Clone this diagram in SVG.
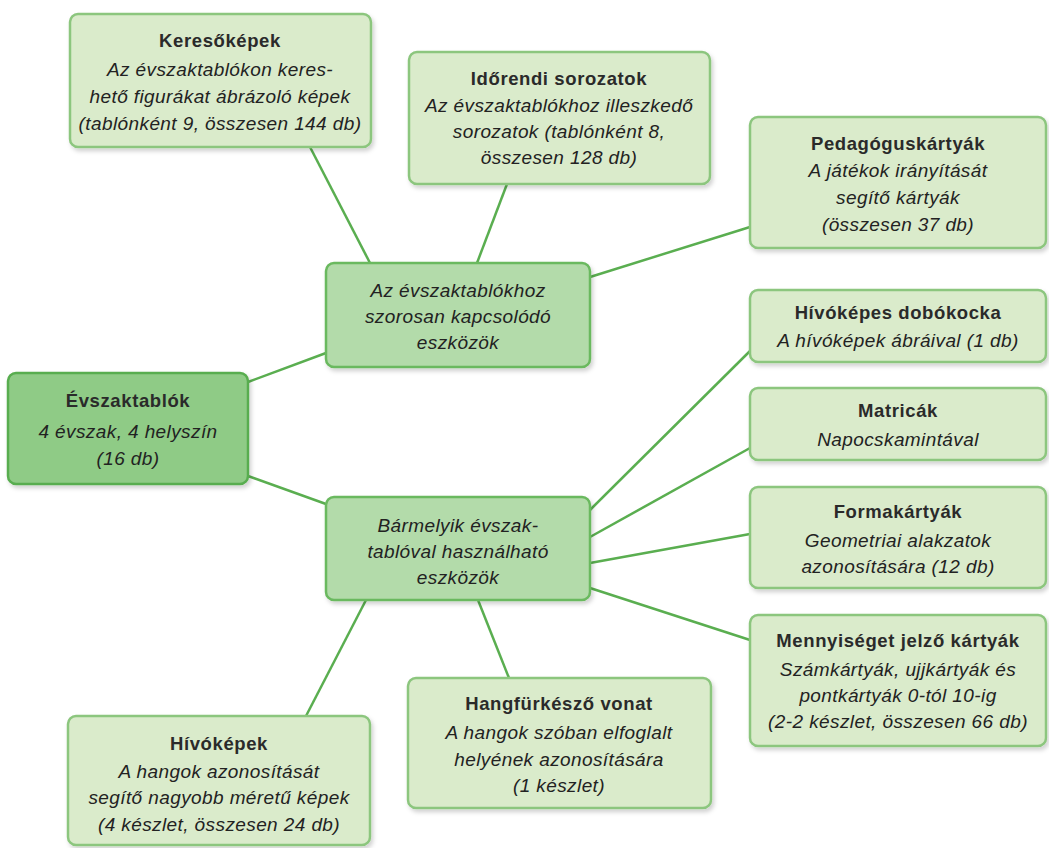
<svg xmlns="http://www.w3.org/2000/svg" width="1049" height="848" viewBox="0 0 1049 848">
<defs>
<filter id="sh" x="-10%" y="-10%" width="120%" height="130%">
<feDropShadow dx="2" dy="3" stdDeviation="2" flood-color="#000" flood-opacity="0.18"/>
</filter>
<style>
.box{fill:#daebcb;stroke:#8cc67e;stroke-width:2.5;filter:url(#sh)}
.mid{fill:#b3dbaa;stroke:#6ab95e;stroke-width:2.5;filter:url(#sh)}
.root{fill:#8fcb86;stroke:#58ad4f;stroke-width:2.5;filter:url(#sh)}
.conn line{stroke:#5aae50;stroke-width:2.5}
text{font-family:"Liberation Sans",Arial,sans-serif;font-size:19px;letter-spacing:0.4px;fill:#222;text-anchor:middle}
.t{font-weight:bold;fill:#2a2a2a;font-size:18.5px;letter-spacing:0.6px}
.d{font-style:italic}
</style>
</defs>
<rect width="1049" height="848" fill="#fff"/>
<g id="connectors" class="conn">
<line x1="248" y1="382" x2="326" y2="353"/>
<line x1="248" y1="476" x2="326" y2="504"/>
<line x1="310" y1="147" x2="370" y2="263"/>
<line x1="507" y1="184" x2="477" y2="263"/>
<line x1="590" y1="277" x2="750" y2="227"/>
<line x1="590" y1="510" x2="750" y2="351"/>
<line x1="590" y1="537" x2="750" y2="448"/>
<line x1="590" y1="563" x2="750" y2="534"/>
<line x1="590" y1="588" x2="750" y2="640"/>
<line x1="478" y1="600" x2="509" y2="678"/>
<line x1="366" y1="600" x2="306" y2="716"/>
</g>
<g id="keresokepek">
<rect class="box" x="70" y="14" width="301" height="133" rx="8"/>
<text class="t" x="220" y="47">Keresőképek</text>
<text class="d" x="220" y="76">Az évszaktablókon keres-</text>
<text class="d" x="220" y="103">hető figurákat ábrázoló képek</text>
<text class="d" x="220" y="130">(tablónként 9, összesen 144 db)</text>
</g>
<g id="idorendi">
<rect class="box" x="409" y="52" width="301" height="132" rx="8"/>
<text class="t" x="559" y="85">Időrendi sorozatok</text>
<text class="d" x="559" y="112">Az évszaktablókhoz illeszkedő</text>
<text class="d" x="559" y="138">sorozatok (tablónként 8,</text>
<text class="d" x="559" y="164">összesen 128 db)</text>
</g>
<g id="pedagogus">
<rect class="box" x="750" y="117" width="296" height="131" rx="8"/>
<text class="t" x="898" y="150">Pedagóguskártyák</text>
<text class="d" x="898" y="177">A játékok irányítását</text>
<text class="d" x="898" y="204">segítő kártyák</text>
<text class="d" x="898" y="231">(összesen 37 db)</text>
</g>
<g id="mid1">
<rect class="mid" x="326" y="263" width="264" height="104" rx="8"/>
<text class="d" x="458" y="297">Az évszaktablókhoz</text>
<text class="d" x="458" y="323">szorosan kapcsolódó</text>
<text class="d" x="458" y="349">eszközök</text>
</g>
<g id="root">
<rect class="root" x="8" y="373" width="240" height="111" rx="8"/>
<text class="t" x="128" y="407">Évszaktablók</text>
<text class="d" x="128" y="438">4 évszak, 4 helyszín</text>
<text class="d" x="128" y="465">(16 db)</text>
</g>
<g id="mid2">
<rect class="mid" x="326" y="497" width="264" height="103" rx="8"/>
<text class="d" x="458" y="532">Bármelyik évszak-</text>
<text class="d" x="458" y="558">tablóval használható</text>
<text class="d" x="458" y="584">eszközök</text>
</g>
<g id="dobokocka">
<rect class="box" x="750" y="290" width="296" height="72" rx="8"/>
<text class="t" x="898" y="319">Hívóképes dobókocka</text>
<text class="d" x="898" y="347">A hívóképek ábráival (1 db)</text>
</g>
<g id="matricak">
<rect class="box" x="750" y="388" width="296" height="72" rx="8"/>
<text class="t" x="898" y="417">Matricák</text>
<text class="d" x="898" y="446">Napocskamintával</text>
</g>
<g id="formakartyak">
<rect class="box" x="750" y="487" width="296" height="101" rx="8"/>
<text class="t" x="898" y="518">Formakártyák</text>
<text class="d" x="898" y="547">Geometriai alakzatok</text>
<text class="d" x="898" y="573">azonosítására (12 db)</text>
</g>
<g id="mennyiseg">
<rect class="box" x="750" y="615" width="296" height="131" rx="8"/>
<text class="t" x="898" y="647">Mennyiséget jelző kártyák</text>
<text class="d" x="898" y="676">Számkártyák, ujjkártyák és</text>
<text class="d" x="898" y="702">pontkártyák 0-tól 10-ig</text>
<text class="d" x="898" y="728">(2-2 készlet, összesen 66 db)</text>
</g>
<g id="hangfurkeszo">
<rect class="box" x="408" y="678" width="303" height="130" rx="8"/>
<text class="t" x="559" y="710">Hangfürkésző vonat</text>
<text class="d" x="559" y="739">A hangok szóban elfoglalt</text>
<text class="d" x="559" y="766">helyének azonosítására</text>
<text class="d" x="559" y="792">(1 készlet)</text>
</g>
<g id="hivokepek">
<rect class="box" x="68" y="716" width="302" height="129" rx="8"/>
<text class="t" x="219" y="750">Hívóképek</text>
<text class="d" x="219" y="778">A hangok azonosítását</text>
<text class="d" x="219" y="804">segítő nagyobb méretű képek</text>
<text class="d" x="219" y="831">(4 készlet, összesen 24 db)</text>
</g>
</svg>
